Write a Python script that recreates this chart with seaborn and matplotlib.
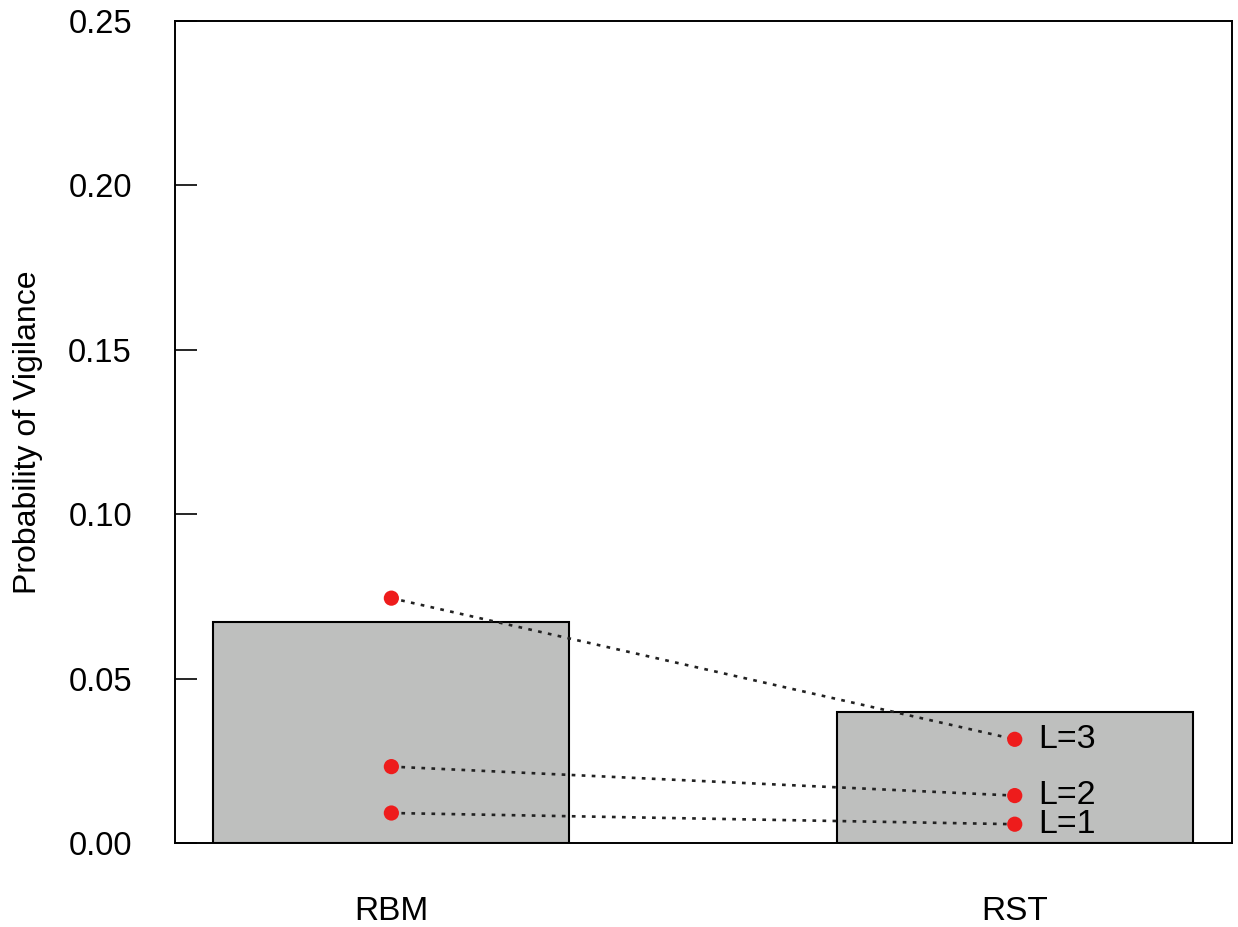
import numpy as np
import pandas as pd
import matplotlib
matplotlib.use("Agg")
import matplotlib.pyplot as plt
import seaborn as sns

# data
groups = ["RBM", "RST"]
bar_values = [0.0672, 0.0398]
levels = ["L=1", "L=2", "L=3"]
rbm_points = [0.0092, 0.0233, 0.0745]
rst_points = [0.0058, 0.0145, 0.0316]
y_ticks = [0.00, 0.05, 0.10, 0.15, 0.20, 0.25]

sns.set_theme(style="white")
plt.rcParams['font.family'] = ['Liberation Sans', 'DejaVu Sans']
plt.rcParams['text.color'] = 'black'
plt.rcParams['axes.labelcolor'] = 'black'
plt.rcParams['xtick.color'] = 'black'
plt.rcParams['ytick.color'] = 'black'

bars = pd.DataFrame({"group": groups, "prob": bar_values})
pts = pd.DataFrame({
    "group": groups * len(levels),
    "level": [lv for lv in levels for _ in groups],
    "prob": [v for pair in zip(rbm_points, rst_points) for v in pair],
})

fig = plt.figure(figsize=(12.38, 9.27), dpi=100)
ax = fig.add_axes([0.1414, 0.0903, 0.8535, 0.8874])

sns.barplot(data=bars, x="group", y="prob", order=groups, color="#BEBFBE",
            saturation=1, width=0.571, edgecolor="black", linewidth=1.5, ax=ax)

# dotted connecting lines, one per level
for lv in levels:
    sub = pts[pts["level"] == lv]
    xs = [groups.index(g) for g in sub["group"]]
    ax.plot(xs, sub["prob"].values, color="#222222", lw=1.9,
            linestyle=(0, (1.4, 2.4)), zorder=3)

sns.scatterplot(data=pts, x=[groups.index(g) for g in pts["group"]], y="prob",
                color="#EE1C1C", s=120, edgecolor="none", zorder=4, ax=ax)

# labels next to the RST points
for lv, v in zip(levels, rst_points):
    ax.text(1 + 0.037, v, lv, fontsize=24.5, va="center", ha="left", zorder=5)

ax.set_xlim(-0.347, 1.348)
ax.set_ylim(0, 0.25)
ax.set_yticks(y_ticks)
ax.set_yticklabels([f"{t:.2f}" for t in y_ticks])
ax.set_xticks(range(len(groups)))
ax.set_xticklabels(groups)
ax.tick_params(axis="y", direction="in", length=15.8, width=1.2, pad=31,
               labelsize=23.5, left=True)
ax.tick_params(axis="x", length=0, pad=38, labelsize=24)
ax.set_xlabel("")
ax.set_ylabel("Probability of Vigilance", fontsize=23, labelpad=18)

for sp in ax.spines.values():
    sp.set_color("black")
    sp.set_linewidth(1.4)

fig.savefig("out.png", dpi=100)
